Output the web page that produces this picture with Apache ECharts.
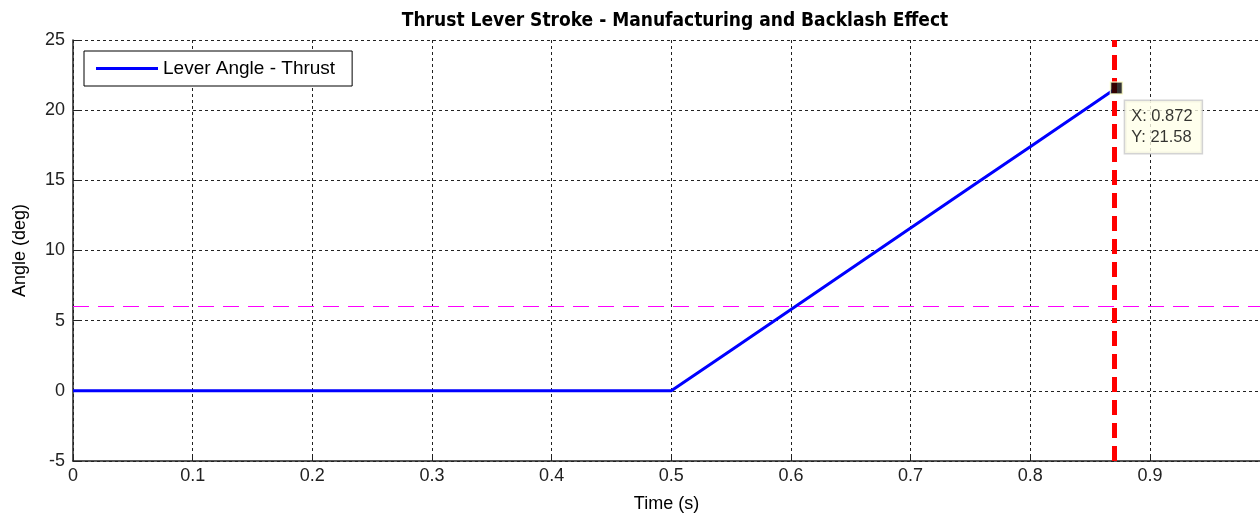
<!DOCTYPE html>
<html>
<head>
<meta charset="utf-8">
<script src="https://cdn.jsdelivr.net/npm/echarts@6/dist/echarts.min.js"></script>
<style>html,body{margin:0;padding:0;background:#fff}#c{width:1260px;height:518px}</style>
</head>
<body>
<div id="c"></div>
<script>
var titleText = 'Thrust Lever Stroke - Manufacturing and Backlash Effect';
var seriesName = 'Lever Angle - Thrust';
var timeValues = [0, 0.1, 0.2, 0.3, 0.4, 0.5, 0.55, 0.6, 0.65, 0.7, 0.75, 0.8, 0.85, 0.872];
var angleValues = [0, 0, 0, 0, 0, 0, 2.9, 5.8, 8.7, 11.6, 14.5, 17.4, 20.3, 21.58];
var thresholdAngle = 6;
var cursorX = 0.872;
var cursorY = 21.58;
var xTicks = [0, 0.1, 0.2, 0.3, 0.4, 0.5, 0.6, 0.7, 0.8, 0.9];
var yTicks = [-5, 0, 5, 10, 15, 20, 25];

var font = 'Liberation Sans';
var lineData = timeValues.map(function (t, i) { return [t, angleValues[i]]; });

var chart = echarts.init(document.getElementById('c'), null, {renderer: 'canvas'});
chart.setOption({
  animation: false,
  backgroundColor: '#fff',
  title: {
    text: titleText, left: 670, top: 7, textAlign: 'center',
    textStyle: {fontFamily: 'DejaVu Sans Condensed', fontWeight: 'bold', fontSize: 19, color: '#000'}
  },
  legend: {
    left: 84, top: 51, width: 268, height: 36,
    orient: 'vertical',
    padding: [8, 17, 8, 12],
    borderColor: '#000', borderWidth: 1, backgroundColor: '#fff',
    itemWidth: 62, itemHeight: 3, itemGap: 6,
    icon: 'rect',
    textStyle: {fontFamily: font, fontSize: 19, color: '#000', padding: [0, 0, 0, 0]},
    data: [{name: seriesName, itemStyle: {color: '#0000ff'}}]
  },
  grid: {left: 73, right: 0, top: 40, bottom: 57, containLabel: false},
  xAxis: {
    type: 'value', min: 0, max: 0.992, interval: 0.1,
    name: 'Time (s)', nameLocation: 'middle', nameGap: 34,
    nameTextStyle: {fontFamily: font, fontSize: 18, color: '#000'},
    axisLine: {show: true, onZero: false, lineStyle: {color: '#222', width: 1.5}},
    axisTick: {show: true, inside: true, length: 6, lineStyle: {color: '#222'}},
    axisLabel: {
      fontFamily: font, fontSize: 18, color: '#222', margin: 6, showMaxLabel: false,
      formatter: function (v) {
        var r = Math.round(v * 10) / 10;
        if (Math.abs(r - v) > 1e-6 || xTicks.indexOf(r) < 0) return '';
        return String(r);
      }
    },
    splitLine: {show: true, lineStyle: {color: '#222', type: [3, 3], width: 1}}
  },
  yAxis: {
    type: 'value', min: -5, max: 25, interval: 5,
    name: 'Angle (deg)', nameLocation: 'middle', nameGap: 44,
    nameTextStyle: {fontFamily: font, fontSize: 18, color: '#000'},
    axisLine: {show: true, onZero: false, lineStyle: {color: '#222', width: 1.5}},
    axisTick: {show: true, inside: true, length: 6, lineStyle: {color: '#222'}},
    axisLabel: {
      fontFamily: font, fontSize: 18, color: '#222', margin: 8,
      formatter: function (v) { return yTicks.indexOf(v) >= 0 ? String(v) : ''; }
    },
    splitLine: {show: true, lineStyle: {color: '#222', type: [3, 3], width: 1}}
  },
  series: [
    {
      name: seriesName, type: 'line', data: lineData, showSymbol: false, symbol: 'none',
      lineStyle: {color: '#0000ff', width: 3}, itemStyle: {color: '#0000ff'}, z: 3,
      markLine: {
        silent: true, symbol: 'none', label: {show: false},
        data: [
          {yAxis: thresholdAngle, lineStyle: {color: '#ff00ff', width: 1.2, type: [16, 9]}},
          {xAxis: cursorX, lineStyle: {color: '#ff0000', width: 5, type: [15, 8]}}
        ]
      }
    },
    {
      name: 'cursor', type: 'scatter', data: [[cursorX, cursorY]],
      symbol: 'rect', symbolSize: 12, z: 10,
      itemStyle: {color: '#000', borderColor: '#ffffcc', borderWidth: 1.5},
      label: {
        show: true, position: 'right', distance: 0, offset: [2, 39],
        formatter: 'X: ' + cursorX + '\nY: ' + cursorY,
        fontFamily: font, fontSize: 16.5, color: '#000', lineHeight: 21,
        backgroundColor: '#ffffe8', borderColor: '#c8c8c8', borderWidth: 1.5,
        padding: [6, 9, 4, 6], align: 'left'
      }
    }
  ]
});
</script>
</body>
</html>
